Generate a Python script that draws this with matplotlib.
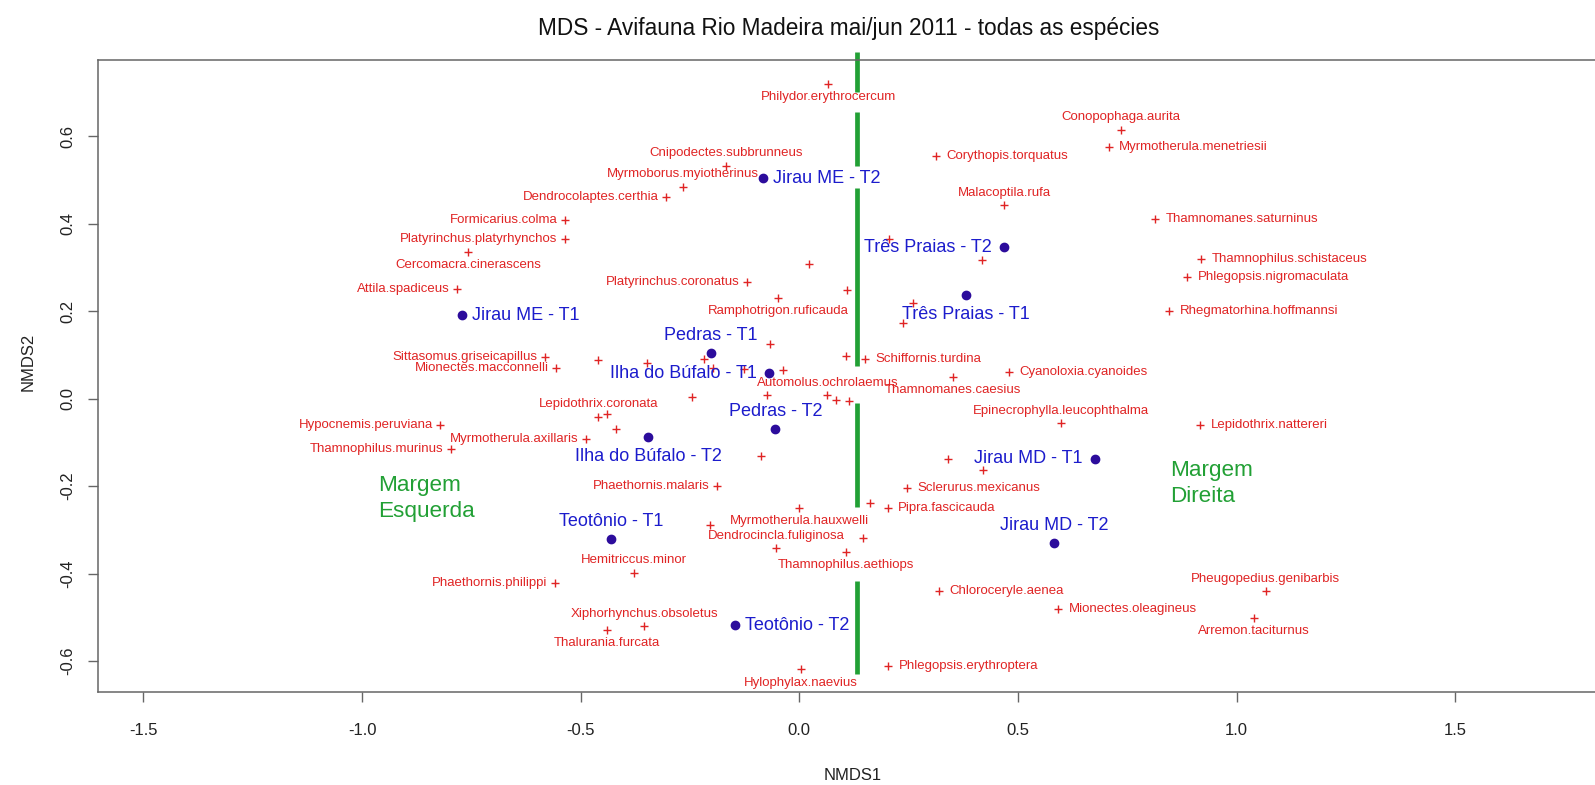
import matplotlib
matplotlib.use('Agg')
import matplotlib.pyplot as plt
from matplotlib import font_manager
from matplotlib.font_manager import FontProperties

plt.rcParams['font.family'] = ['Liberation Sans', 'DejaVu Sans']

# NMDS site scores
site_names = ['Jirau ME - T1', 'Jirau ME - T2', 'Pedras - T1', 'Ilha do Búfalo - T1',
              'Pedras - T2', 'Ilha do Búfalo - T2', 'Teotônio - T1', 'Teotônio - T2',
              'Três Praias - T2', 'Três Praias - T1', 'Jirau MD - T1', 'Jirau MD - T2']
site_x = [-0.771, -0.083, -0.202, -0.069, -0.055, -0.346, -0.430, -0.147, 0.469, 0.381, 0.676, 0.583]
site_y = [0.191, 0.504, 0.104, 0.058, -0.070, -0.088, -0.321, -0.518, 0.346, 0.237, -0.138, -0.330]

# species scores (labelled)
species_names = [
    'Philydor.erythrocercum', 'Cnipodectes.subbrunneus', 'Myrmoborus.myiotherinus',
    'Dendrocolaptes.certhia', 'Formicarius.colma', 'Platyrinchus.platyrhynchos',
    'Cercomacra.cinerascens', 'Attila.spadiceus', 'Platyrinchus.coronatus',
    'Ramphotrigon.ruficauda', 'Conopophaga.aurita', 'Myrmotherula.menetriesii',
    'Corythopis.torquatus', 'Malacoptila.rufa', 'Thamnomanes.saturninus',
    'Thamnophilus.schistaceus', 'Phlegopsis.nigromaculata', 'Rhegmatorhina.hoffmannsi',
    'Schiffornis.turdina', 'Cyanoloxia.cyanoides', 'Thamnomanes.caesius',
    'Automolus.ochrolaemus', 'Sittasomus.griseicapillus', 'Mionectes.macconnelli',
    'Lepidothrix.coronata', 'Hypocnemis.peruviana', 'Myrmotherula.axillaris',
    'Thamnophilus.murinus', 'Epinecrophylla.leucophthalma', 'Lepidothrix.nattereri',
    'Phaethornis.malaris', 'Sclerurus.mexicanus', 'Pipra.fascicauda',
    'Myrmotherula.hauxwelli', 'Dendrocincla.fuliginosa', 'Thamnophilus.aethiops',
    'Hemitriccus.minor', 'Phaethornis.philippi', 'Chloroceryle.aenea',
    'Pheugopedius.genibarbis', 'Mionectes.oleagineus', 'Arremon.taciturnus',
    'Xiphorhynchus.obsoletus', 'Thalurania.furcata', 'Phlegopsis.erythroptera',
    'Hylophylax.naevius',
]
species_x = [0.066, -0.167, -0.266, -0.305, -0.536, -0.536, -0.757, -0.783, -0.119,
             -0.048, 0.736, 0.708, 0.313, 0.469, 0.814, 0.919, 0.887, 0.846,
             0.150, 0.480, 0.352, 0.064, -0.581, -0.556, -0.460, -0.821, -0.488,
             -0.797, 0.599, 0.917, -0.188, 0.247, 0.202, 0.000, -0.053, 0.107,
             -0.378, -0.558, 0.319, 1.067, 0.592, 1.040, -0.355, -0.440, 0.203,
             0.004]
species_y = [0.719, 0.532, 0.484, 0.461, 0.408, 0.365, 0.335, 0.250, 0.266,
             0.230, 0.614, 0.576, 0.555, 0.442, 0.410, 0.319, 0.278, 0.200,
             0.090, 0.061, 0.049, 0.008, 0.095, 0.070, -0.042, -0.061, -0.093,
             -0.115, -0.056, -0.061, -0.200, -0.205, -0.250, -0.250, -0.342, -0.351,
             -0.398, -0.422, -0.440, -0.440, -0.481, -0.502, -0.520, -0.529, -0.612,
             -0.619]

# species scores whose labels were dropped
other_x = [0.022, 0.109, 0.205, 0.418, 0.261, 0.237, 0.107, -0.460, -0.349, -0.218,
           -0.197, -0.067, -0.126, -0.037, -0.245, -0.074, 0.084, 0.114, -0.440,
           -0.419, -0.087, 0.340, 0.420, 0.161, -0.204, 0.146]
other_y = [0.308, 0.248, 0.365, 0.316, 0.218, 0.173, 0.097, 0.089, 0.081, 0.090,
           0.070, 0.125, 0.067, 0.065, 0.003, 0.008, -0.003, -0.006, -0.036,
           -0.070, -0.131, -0.138, -0.164, -0.239, -0.289, -0.319]

# river dividing the two banks
river_x = 0.131
river_segments = [(0.792, 0.701), (0.655, 0.532), (0.481, 0.074), (-0.010, -0.248), (-0.417, -0.630)]

# label side for each point: r(ight), l(eft), a(bove), b(elow)
site_side = ['r', 'r', 'a', 'l', 'a', 'b', 'a', 'r', 'l', 'b', 'l', 'a']
species_side = ['b', 'a', 'a', 'l', 'l', 'l', 'b', 'l', 'l', 'b', 'a', 'r', 'r', 'a', 'r',
                'r', 'r', 'r', 'r', 'r', 'b', 'a', 'l', 'l', 'a', 'l', 'l', 'l', 'a', 'r',
                'l', 'r', 'r', 'b', 'a', 'b', 'a', 'l', 'r', 'a', 'r', 'b', 'a', 'b', 'r',
                'b']

SITE_OFF = {'r': (7.2, 0, 'left'), 'l': (-9.0, 0, 'right'), 'a': (0, 12.5, 'center'), 'b': (0, -14, 'center')}
SPEC_OFF = {'r': (7.5, 0, 'left'), 'l': (-5.5, 0, 'right'), 'a': (0, 9, 'center'), 'b': (0, -9.5, 'center')}

RED = '#e02424'
BLUE = '#1c1ccc'
DOT = '#2c0c9c'
GREEN = '#22a035'


def has_font(name):
    try:
        font_manager.findfont(FontProperties(family=name), fallback_to_default=False)
        return True
    except ValueError:
        return False


if has_font('Liberation Sans Narrow'):
    spec_font, spec_size = ['Liberation Sans Narrow'], 11.2
else:
    spec_font, spec_size = ['Liberation Sans'], 9.5

fig = plt.figure(figsize=(15.95, 7.85), dpi=100)
ax = fig.add_axes([98 / 1595, 1 - 691.7 / 785, 1501.5 / 1595, 631.7 / 785])
ax.set_xlim(-1.604, 1.83)
ax.set_ylim(-0.670, 0.774)

for y0, y1 in river_segments:
    ax.plot([river_x, river_x], [y0, y1], color=GREEN, lw=3.4, solid_capstyle='butt',
            clip_on=False, zorder=1)

ax.plot(other_x, other_y, '+', color=RED, ms=5.5, mew=1.0, zorder=2)
ax.plot(species_x, species_y, '+', color=RED, ms=5.5, mew=1.0, zorder=2)
ax.plot(site_x, site_y, 'o', color=DOT, ms=6, mec=DOT, zorder=3)

for name, x, y, side in zip(species_names, species_x, species_y, species_side):
    dx, dy, ha = SPEC_OFF[side]
    ax.annotate(name, (x, y), xytext=(dx, dy), textcoords='offset points', ha=ha, va='center',
                color=RED, fontsize=spec_size, family=spec_font, zorder=4)

for name, x, y, side in zip(site_names, site_x, site_y, site_side):
    dx, dy, ha = SITE_OFF[side]
    ax.annotate(name, (x, y), xytext=(dx, dy), textcoords='offset points', ha=ha, va='center',
                color=BLUE, fontsize=13, zorder=5)

ax.text(-0.963, -0.2275, 'Margem\nEsquerda', color=GREEN, fontsize=16.2, ha='left', va='center',
        linespacing=1.3)
ax.text(0.848, -0.194, 'Margem\nDireita', color=GREEN, fontsize=16.2, ha='left', va='center',
        linespacing=1.3)

xt = [-1.5, -1.0, -0.5, 0.0, 0.5, 1.0, 1.5]
yt = [-0.6, -0.4, -0.2, 0.0, 0.2, 0.4, 0.6]
ax.set_xticks(xt)
ax.set_xticklabels(['%.1f' % v for v in xt])
ax.set_yticks(yt)
ax.set_yticklabels(['%.1f' % v for v in yt], rotation=90, va='center')
ax.tick_params(axis='both', length=7.5, width=1.0, color='#666666', labelsize=12, labelcolor='#222222')
ax.tick_params(axis='x', pad=15)
ax.tick_params(axis='y', pad=9)
for sp in ax.spines.values():
    sp.set_color('#666666')
    sp.set_linewidth(1.1)

fig.text(849 / 1595, 1 - 29 / 785, 'MDS - Avifauna Rio Madeira mai/jun 2011 - todas as espécies',
         ha='center', va='center', fontsize=16.3, color='#111111')
fig.text(853 / 1595, 1 - 775 / 785, 'NMDS1', ha='center', va='center', fontsize=12, color='#222222')
fig.text(28 / 1595, 1 - 362 / 785, 'NMDS2', ha='center', va='center', fontsize=12, rotation=90,
         color='#222222')

fig.savefig('out.png', dpi=100)
